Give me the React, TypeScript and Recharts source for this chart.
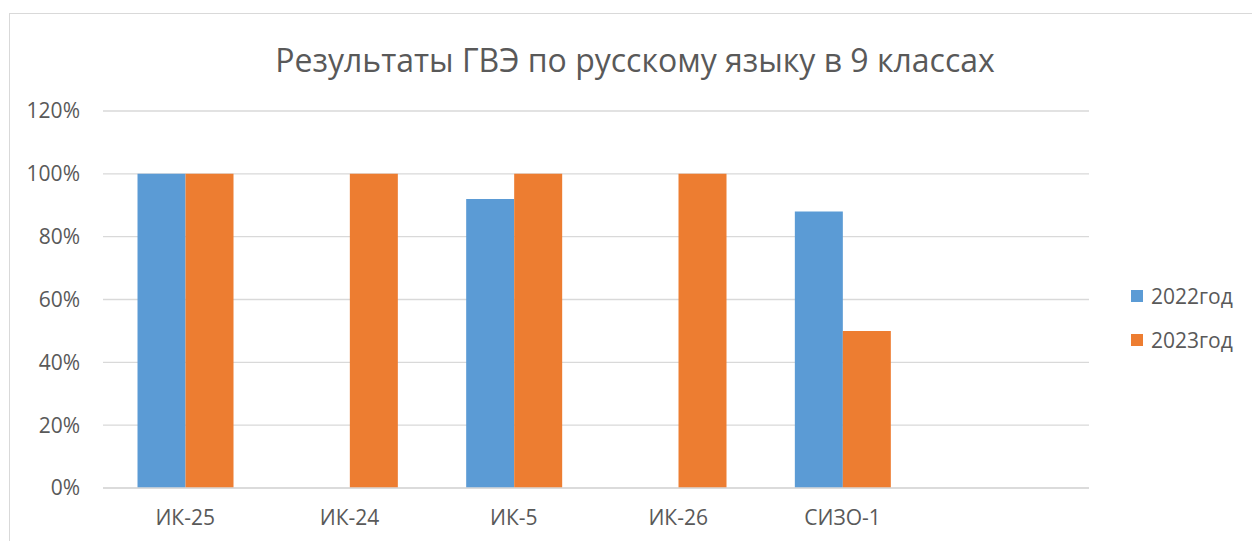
import { BarChart, Bar, XAxis, YAxis, CartesianGrid, Legend } from 'recharts'

const CATEGORIES = ['ИК-25', 'ИК-24', 'ИК-5', 'ИК-26', 'СИЗО-1', '']
const Y2022 = [100, 0, 92, 0, 88, null]
const Y2023 = [100, 100, 100, 100, 50, null]
const Y_TICKS = [0, 20, 40, 60, 80, 100, 120]

const FONT = '"Open Sans", "Noto Sans", sans-serif'
const TEXT = '#595959'

const data = CATEGORIES.map((c, i) => ({
  name: c,
  '2022год': Y2022[i],
  '2023год': Y2023[i],
}))

function LegendBox({ payload }: any) {
  return (
    <div style={{ fontFamily: FONT, fontSize: 21, color: TEXT }}>
      {(payload || []).map((p: any) => (
        <div key={p.value} style={{ display: 'flex', alignItems: 'center', height: 44 }}>
          <span style={{ width: 12, height: 12, background: p.color, marginRight: 8, display: 'inline-block' }} />
          {p.value}
        </div>
      ))}
    </div>
  )
}

export default function App() {
  return (
    <div style={{ position: 'absolute', left: 0, top: 0, width: 1252, height: 541, overflow: 'hidden', background: '#fff' }}>
      <div style={{ position: 'absolute', left: 9, top: 13, width: 1300, height: 600, border: '1px solid #d9d9d9', boxSizing: 'border-box' }} />
      <div style={{ position: 'absolute', left: 0, top: 38, width: 1270, textAlign: 'center', fontFamily: FONT, fontSize: 32, color: TEXT, lineHeight: '44px' }}>
        Результаты ГВЭ по русскому языку в 9 классах
      </div>
      <BarChart
        width={1252}
        height={541}
        data={data}
        margin={{ top: 111, right: 163, bottom: 0, left: 0 }}
        barGap={0}
        barCategoryGap="21%"
        style={{ position: 'absolute', left: 0, top: 0 }}
      >
        <CartesianGrid vertical={false} stroke="#d9d9d9" strokeWidth={1.3} />
        <XAxis
          dataKey="name"
          height={53}
          tickLine={false}
          tickSize={0}
          tickMargin={22}
          axisLine={{ stroke: '#d9d9d9', strokeWidth: 1.3 }}
          tick={{ fill: TEXT, fontSize: 21, fontFamily: FONT }}
          interval={0}
        />
        <YAxis
          width={103}
          domain={[0, 120]}
          ticks={Y_TICKS}
          tickFormatter={(v: number) => `${v}%`}
          axisLine={false}
          tickLine={false}
          tickSize={0}
          tickMargin={23}
          tick={{ fill: TEXT, fontSize: 21, fontFamily: FONT }}
        />
        <Legend
          layout="vertical"
          align="center"
          verticalAlign="middle"
          content={<LegendBox />}
          wrapperStyle={{ left: 1131, top: 274, width: 120 }}
        />
        <Bar dataKey="2022год" fill="#5B9BD5" isAnimationActive={false} />
        <Bar dataKey="2023год" fill="#ED7D31" isAnimationActive={false} />
      </BarChart>
    </div>
  )
}
